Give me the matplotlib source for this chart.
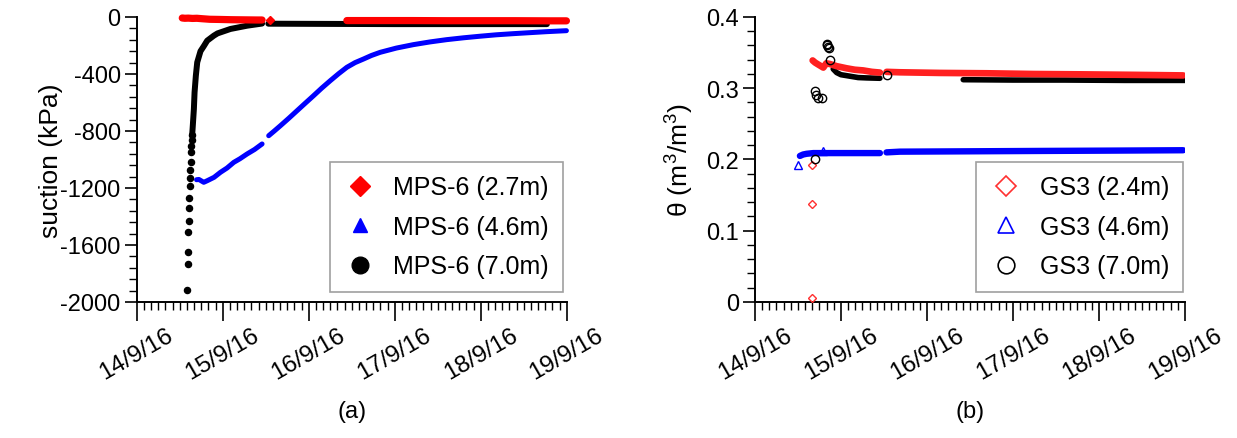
import numpy as np
import matplotlib
matplotlib.use("Agg")
import matplotlib.pyplot as plt
from matplotlib.lines import Line2D
from matplotlib.ticker import MultipleLocator

plt.rcParams["font.family"] = ["Liberation Sans", "DejaVu Sans"]
plt.rcParams["mathtext.fontset"] = "custom"
plt.rcParams["mathtext.rm"] = "Liberation Sans"
plt.rcParams["axes.unicode_minus"] = False

nan = np.nan

# =========================
# Data (days after 14/9/16 00:00)
# =========================

date_labels = ["14/9/16", "15/9/16", "16/9/16", "17/9/16", "18/9/16", "19/9/16"]

# (a) suction, kPa
mps27_day = [0.53, 0.56, 0.60, 0.65, 0.70, 0.76, 0.85, 0.95, 1.10, 1.25, 1.40, 1.458,
             nan, 1.547, nan,
             2.444, 2.8, 3.2, 3.6, 4.0, 4.4, 4.8, 4.997]
mps27_kpa = [-7, -9, -8, -10, -9, -12, -16, -17, -19, -20, -21, -21,
             nan, -21, nan,
             -25, -25, -25, -26, -26, -26, -27, -27]

mps46_day = [0.696, 0.723, 0.78, 0.82, 0.90, 0.974, 1.05, 1.129, 1.20, 1.284, 1.37, 1.458,
             nan,
             1.535, 1.60, 1.671, 1.77, 1.864, 1.96, 2.057, 2.15, 2.251, 2.35, 2.444,
             2.54, 2.637, 2.73, 2.831, 3.02, 3.217, 3.41, 3.604, 3.80, 3.991, 4.18,
             4.377, 4.57, 4.764, 4.997]
mps46_kpa = [-1142, -1140, -1160, -1149, -1125, -1090, -1060, -1020, -995, -961, -930, -891,
             nan,
             -833, -800, -763, -710, -658, -605, -552, -500, -447, -397, -353,
             -320, -295, -270, -248, -218, -194, -175, -159, -146, -135, -125,
             -117, -110, -103, -96]

# sparse first readings of the 7.0 m sensor
mps70_dot_day = [0.5878, 0.5955, 0.5960, 0.5994, 0.6032, 0.6110, 0.6115, 0.6148, 0.6187,
                 0.6226, 0.6265, 0.6342, 0.6345, 0.6419, 0.6422]
mps70_dot_kpa = [-1916, -1733, -1651, -1506, -1434, -1338, -1272, -1184, -1130,
                 -1071, -1020, -950, -903, -861, -828]
mps70_day = [0.645, 0.650, 0.665, 0.673, 0.688, 0.704, 0.742, 0.78, 0.82, 0.897, 0.94,
             1.09, 1.284, 1.458,
             nan,
             1.531, 2.0, 2.5, 3.0, 3.5, 4.0, 4.5, 4.77]
mps70_kpa = [-828, -786, -646, -529, -412, -318, -240, -205, -166, -131, -115,
             -84, -61, -46,
             nan,
             -47, -48, -49, -50, -50, -50, -50, -50]

# (b) volumetric water content, m3/m3
gs24_out_day = [0.666, 0.659, 0.666]
gs24_out_vwc = [0.192, 0.137, 0.005]
gs24_day = [0.671, 0.70, 0.74, 0.795, 0.83, 0.872, 0.95, 1.066, 1.16, 1.259, 1.36, 1.453,
            nan,
            1.531, 1.686, 2.151, 2.7, 3.236, 3.8, 4.4, 4.98]
gs24_vwc = [0.339, 0.336, 0.333, 0.329, 0.335, 0.334, 0.331, 0.328, 0.326, 0.325, 0.323, 0.322,
            nan,
            0.323, 0.3224, 0.3215, 0.321, 0.320, 0.3195, 0.3188, 0.318]

gs46_out_day = [0.503, 0.795]
gs46_out_vwc = [0.192, 0.212]
gs46_day = [0.523, 0.56, 0.60, 0.678, 0.795, 0.9, 1.066, 1.25, 1.453,
            nan,
            1.53, 1.686, 2.5, 3.3, 4.2, 4.98]
gs46_vwc = [0.205, 0.207, 0.208, 0.209, 0.209, 0.209, 0.209, 0.209, 0.209,
            nan,
            0.210, 0.211, 0.2115, 0.212, 0.2125, 0.213]

gs70_out_day = [0.698, 0.709, 0.736, 0.775, 0.834, 0.841, 0.852, 0.864, 0.872, 0.698, 1.538]
gs70_out_vwc = [0.2966, 0.2905, 0.287, 0.286, 0.362, 0.361, 0.358, 0.356, 0.340, 0.201, 0.318]
gs70_day = [0.910, 0.95, 1.0, 1.1, 1.2, 1.3, 1.453,
            nan,
            2.422, 3.0, 3.6, 4.3, 5.0]
gs70_vwc = [0.327, 0.322, 0.319, 0.317, 0.315, 0.3145, 0.314,
            nan,
            0.312, 0.3115, 0.3115, 0.311, 0.311]

# =========================
# Figure
# =========================

fig = plt.figure(figsize=(12.37, 4.39), dpi=100)

ax1 = fig.add_axes([0.1105, 0.3098, 0.3476, 0.6492])
ax2 = fig.add_axes([0.6103, 0.3098, 0.3476, 0.6492])


def style_axis(ax):
    ax.spines["top"].set_visible(False)
    ax.spines["right"].set_visible(False)
    ax.spines["left"].set_linewidth(1.4)
    ax.spines["bottom"].set_linewidth(1.4)
    ax.set_xlim(0, 5)
    ax.set_xticks(range(6))
    ax.set_xticklabels(date_labels, rotation=30, ha="center", fontsize=17.5)
    ax.xaxis.set_minor_locator(MultipleLocator(1 / 12))
    ax.tick_params(axis="x", which="major", length=13.5, width=1.2, direction="out", pad=2)
    ax.tick_params(axis="x", which="minor", length=5.8, width=1.0, direction="out")
    ax.tick_params(axis="y", which="major", length=8.5, width=1.2, direction="out",
                   labelsize=17, pad=3)
    ax.tick_params(axis="y", which="minor", length=5.8, width=1.0, direction="out")


def add_legend(ax, handles, labels, right):
    leg = ax.legend(handles, labels, loc="lower right", bbox_to_anchor=(right, 0.035),
                    borderaxespad=0, fontsize=18, frameon=True, fancybox=False,
                    edgecolor="#888888", labelspacing=0.62, borderpad=0.55,
                    handletextpad=0.7, handlelength=1.3)
    leg.get_frame().set_linewidth(1.2)
    return leg


# (a) suction
ax1.plot(mps70_dot_day, mps70_dot_kpa, linestyle="none", marker="o",
         markersize=4.4, color="black", clip_on=False, zorder=3)
ax1.plot(mps70_day, mps70_kpa, color="black", linewidth=4.3,
         solid_capstyle="round", clip_on=False, zorder=3)
ax1.plot(mps46_day, mps46_kpa, color="blue", linewidth=3.6,
         solid_capstyle="round", clip_on=False, zorder=3)
ax1.plot(mps27_day, mps27_kpa, color="red", linewidth=5.2, marker="D",
         markersize=4.0, markevery=[13], solid_capstyle="round", clip_on=False, zorder=4)

ax1.set_ylim(-2000, 0)
ax1.set_yticks([0, -400, -800, -1200, -1600, -2000])
ax1.yaxis.set_minor_locator(MultipleLocator(80))
ax1.set_ylabel("suction (kPa)", fontsize=19, labelpad=-2)
style_axis(ax1)

handles1 = [
    Line2D([], [], linestyle="none", marker="D", markersize=10, color="red"),
    Line2D([], [], linestyle="none", marker="^", markersize=10, color="blue"),
    Line2D([], [], linestyle="none", marker="o", markersize=12, color="black"),
]
add_legend(ax1, handles1, ["MPS-6 (2.7m)", "MPS-6 (4.6m)", "MPS-6 (7.0m)"], 0.991)

# (b) water content
ax2.plot(gs70_day, gs70_vwc, color="black", linewidth=4.0,
         solid_capstyle="round", zorder=3)
ax2.plot(gs24_day, gs24_vwc, color="#ff2020", linewidth=4.8,
         solid_capstyle="round", zorder=4)
ax2.plot(gs46_day, gs46_vwc, color="blue", linewidth=4.6,
         solid_capstyle="round", zorder=4)
ax2.plot(gs24_out_day, gs24_out_vwc, linestyle="none", marker="D", markersize=4.5,
         markerfacecolor="none", markeredgecolor="#ff3030", markeredgewidth=1.0,
         clip_on=False, zorder=5)
ax2.plot(gs46_out_day, gs46_out_vwc, linestyle="none", marker="^", markersize=6,
         markerfacecolor="none", markeredgecolor="blue", markeredgewidth=1.0,
         clip_on=False, zorder=5)
ax2.plot(gs70_out_day, gs70_out_vwc, linestyle="none", marker="o", markersize=6,
         markerfacecolor="none", markeredgecolor="black", markeredgewidth=1.0,
         clip_on=False, zorder=5)

ax2.set_ylim(0, 0.4)
ax2.set_yticks([0, 0.1, 0.2, 0.3, 0.4])
ax2.set_yticklabels(["0", "0.1", "0.2", "0.3", "0.4"])
ax2.yaxis.set_minor_locator(MultipleLocator(0.02))
ax2.set_ylabel(r"θ (m$^3$/m$^3$)", fontsize=19, labelpad=8)
style_axis(ax2)

handles2 = [
    Line2D([], [], linestyle="none", marker="D", markersize=10, markerfacecolor="none",
           markeredgecolor="#ff3030", markeredgewidth=1.2),
    Line2D([], [], linestyle="none", marker="^", markersize=11, markerfacecolor="none",
           markeredgecolor="blue", markeredgewidth=1.2),
    Line2D([], [], linestyle="none", marker="o", markersize=12, markerfacecolor="none",
           markeredgecolor="black", markeredgewidth=1.2),
]
add_legend(ax2, handles2, ["GS3 (2.4m)", "GS3 (4.6m)", "GS3 (7.0m)"], 0.995)

# Panel labels
fig.text(0.285, 0.062, "(a)", ha="center", va="center", fontsize=17)
fig.text(0.784, 0.062, "(b)", ha="center", va="center", fontsize=17)

fig.savefig("out.png", dpi=100)
plt.close(fig)
